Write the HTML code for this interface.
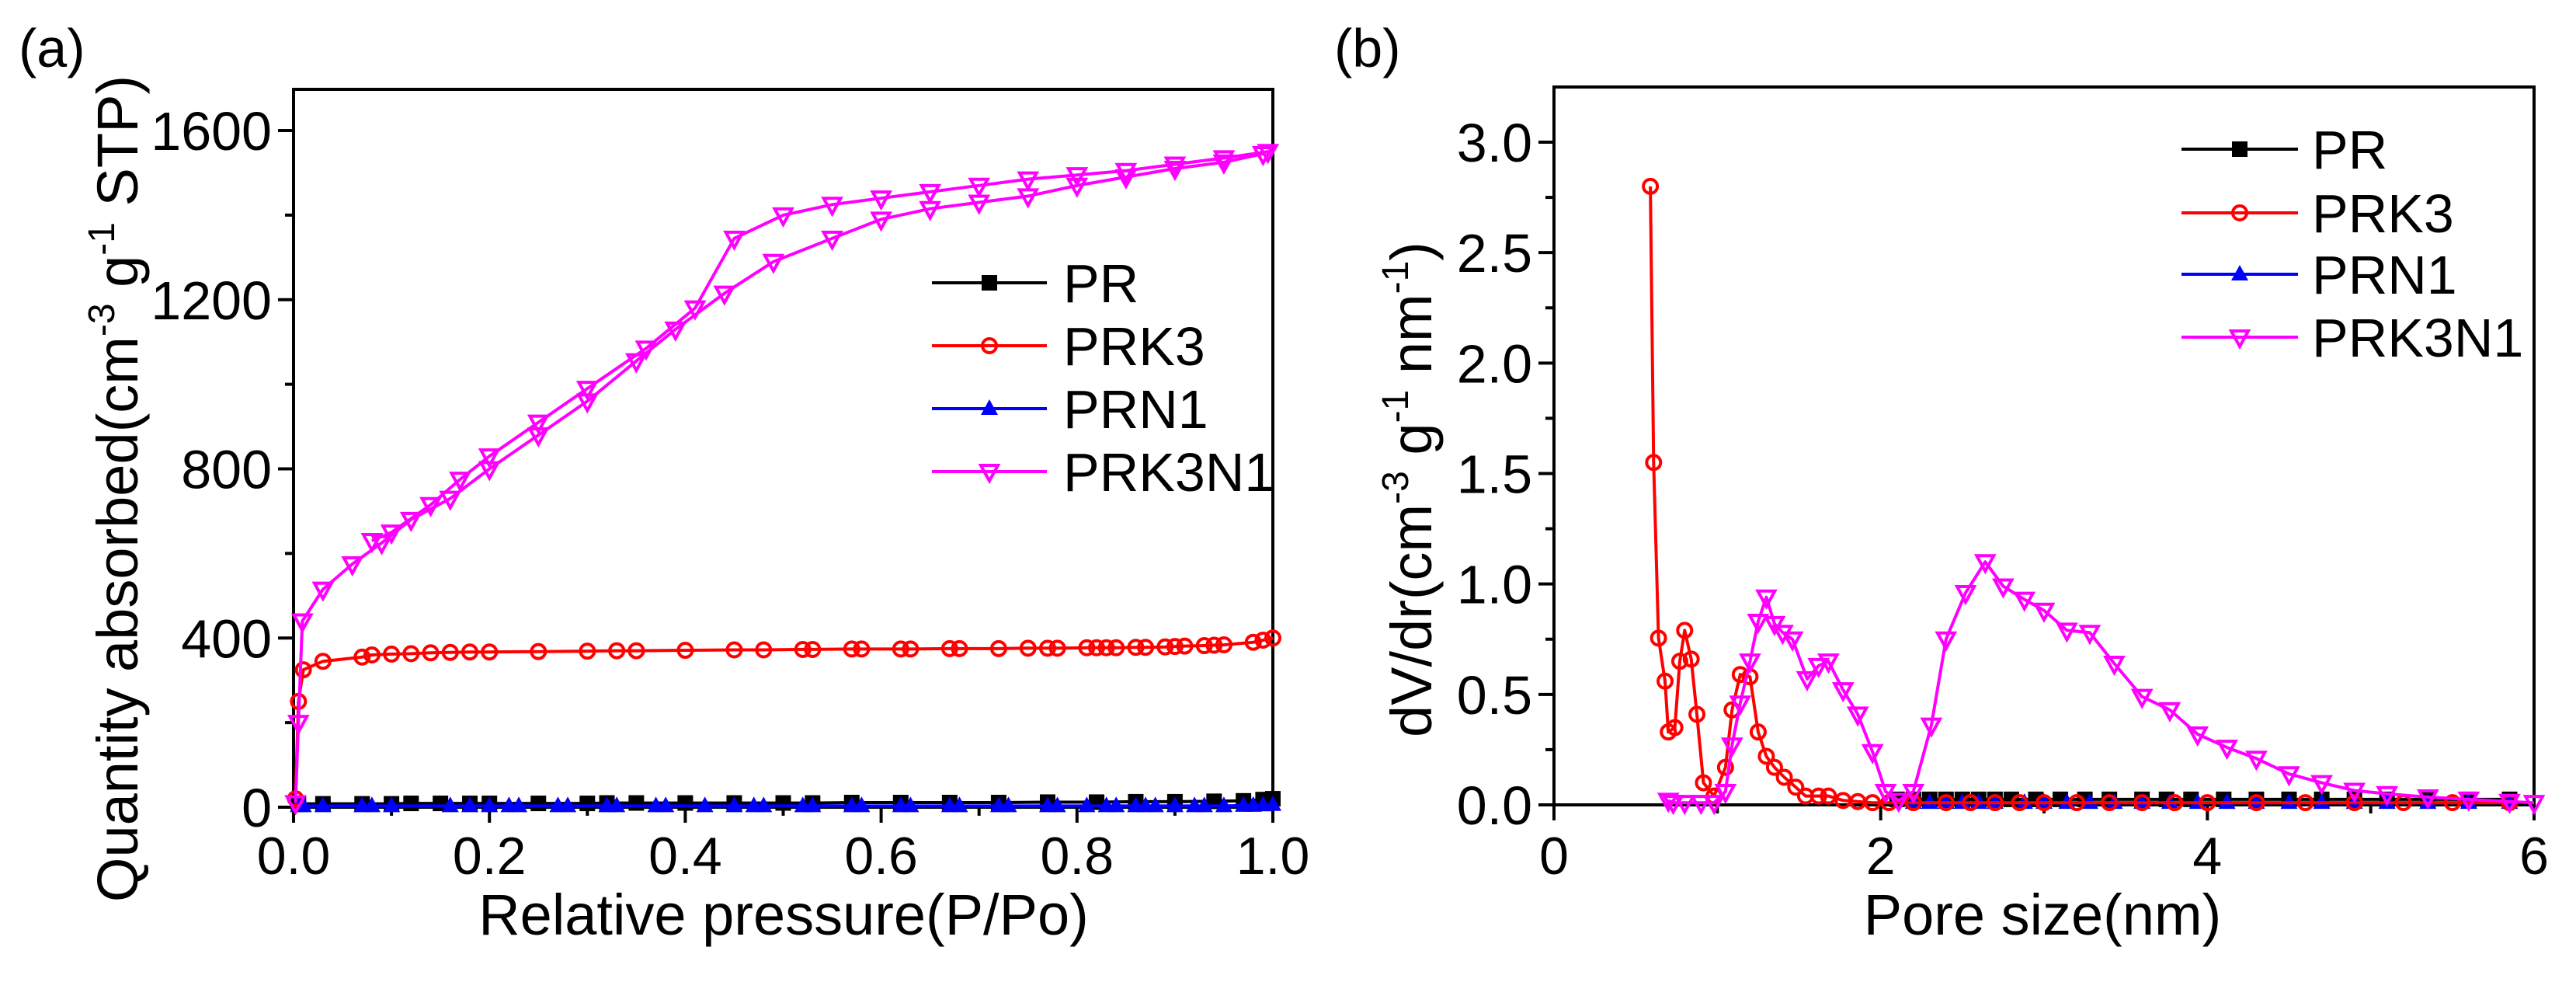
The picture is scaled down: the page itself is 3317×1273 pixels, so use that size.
<!DOCTYPE html>
<html><head><meta charset="utf-8"><style>
html,body{margin:0;padding:0;background:#fff}
svg{display:block;font-family:"Liberation Sans",Arial,sans-serif}
</style></head><body>
<svg id="fig" width="3317" height="1273" viewBox="0 0 3317 1273" xmlns="http://www.w3.org/2000/svg">
<g id="pa"></g>
<g id="pb"></g>
</svg>
<script>
// ---- Panel (a) data: isotherms ----
const aAdsP = [0.002,0.005,0.009,0.03,0.06,0.09,0.12,0.16,0.2,0.25,0.3,0.35,0.39,0.44,0.49,0.55,0.6,0.65,0.7,0.75,0.8,0.85,0.9,0.95,0.99];
const aAdsV = [10,200,440,515,575,625,680,730,800,880,960,1055,1130,1215,1290,1345,1390,1415,1430,1445,1470,1490,1510,1525,1545];
const aDesP = [0.995,0.95,0.9,0.85,0.8,0.75,0.7,0.65,0.6,0.55,0.5,0.45,0.41,0.36,0.3,0.25,0.2,0.17,0.14,0.1,0.08];
const aDesV = [1550,1535,1520,1505,1495,1485,1470,1455,1440,1425,1400,1345,1180,1085,990,910,830,775,715,650,630];
const prk3P = [0.002,0.005,0.01,0.03,0.07,0.08,0.1,0.12,0.14,0.16,0.18,0.2,0.25,0.3,0.33,0.35,0.4,0.45,0.48,0.52,0.53,0.57,0.58,0.62,0.63,0.67,0.68,0.72,0.75,0.77,0.78,0.81,0.82,0.83,0.84,0.86,0.87,0.89,0.9,0.91,0.93,0.94,0.95,0.98,0.99,1.0];
const prk3V = [20,250,325,345,355,360,362,363,365,366,367,367,368,369,370,370,371,372,372,373,373,374,374,374,374,375,375,375,376,376,376,377,377,377,377,378,378,379,380,381,382,383,384,390,395,400];
const prP = [0.005,0.03,0.07,0.1,0.12,0.15,0.18,0.2,0.25,0.3,0.32,0.35,0.4,0.45,0.5,0.53,0.57,0.62,0.67,0.72,0.77,0.82,0.86,0.9,0.94,0.97,0.99,1.0];
const prV = [8,8,8,8,9,9,9,9,9,9,10,10,10,10,10,10,11,11,11,11,12,12,13,13,14,15,18,20];
const prn1P = [0.005,0.01,0.03,0.07,0.08,0.1,0.16,0.18,0.2,0.22,0.23,0.27,0.28,0.32,0.33,0.37,0.38,0.42,0.45,0.47,0.48,0.52,0.53,0.57,0.58,0.62,0.63,0.67,0.68,0.72,0.73,0.77,0.78,0.81,0.83,0.84,0.86,0.87,0.88,0.9,0.92,0.93,0.95,0.97,0.98,0.99,1.0];
const prn1V = [3,3,3,3,3,3,3,3,3,3,3,3,3,3,3,3,3,3,3,3,3,3,3,3,3,3,3,3,3,3,3,3,3,3,3,3,3,3,3,3,3,3,3,4,4,5,6];
const aXTicks = ["0.0","0.2","0.4","0.6","0.8","1.0"];
const aYTicks = ["0","400","800","1200","1600"];
// ---- Panel (b) data: pore size distribution ----
const bPrk3D = [0.59,0.61,0.64,0.68,0.70,0.74,0.77,0.80,0.84,0.875,0.915,0.98,1.05,1.09,1.14,1.20,1.25,1.30,1.35,1.41,1.48,1.54,1.62,1.68,1.77,1.86,1.95,2.05,2.2,2.4,2.55,2.7,2.85,3.0,3.2,3.4,3.6,3.8,4.0,4.3,4.6,4.9,5.2,5.5,5.85];
const bPrk3V = [2.80,1.55,0.755,0.56,0.33,0.35,0.65,0.79,0.66,0.41,0.10,0.04,0.17,0.43,0.59,0.58,0.33,0.22,0.17,0.125,0.08,0.04,0.04,0.04,0.02,0.015,0.01,0.01,0.01,0.01,0.01,0.01,0.01,0.01,0.01,0.01,0.01,0.01,0.01,0.01,0.01,0.01,0.01,0.01,0.01];
const bMixD = [0.7,0.73,0.8,0.9,0.98,1.05,1.09,1.14,1.2,1.25,1.30,1.35,1.40,1.46,1.55,1.62,1.68,1.77,1.86,1.95,2.03,2.11,2.20,2.31,2.40,2.52,2.64,2.75,2.88,3.0,3.14,3.28,3.43,3.6,3.77,3.94,4.12,4.3,4.5,4.7,4.9,5.1,5.35,5.6,5.85,6.0];
const bMixV = [0.02,0.01,0.01,0.01,0.01,0.06,0.27,0.46,0.65,0.83,0.94,0.82,0.78,0.75,0.57,0.63,0.65,0.52,0.41,0.24,0.06,0.02,0.06,0.36,0.75,0.96,1.10,0.99,0.93,0.88,0.79,0.78,0.64,0.49,0.43,0.32,0.26,0.21,0.14,0.10,0.065,0.05,0.035,0.025,0.015,0.01];
const bPrD = [2.1,2.2,2.3,2.4,2.5,2.6,2.7,2.8,2.95,3.1,3.25,3.4,3.6,3.75,3.9,4.1,4.3,4.5,4.7,4.9,5.1,5.35,5.6,5.85];
const bPrV = [0.025,0.025,0.025,0.025,0.025,0.025,0.025,0.025,0.025,0.025,0.025,0.025,0.025,0.025,0.025,0.025,0.025,0.025,0.025,0.025,0.025,0.025,0.025,0.025];
const bPrn1D = [2.2,2.3,2.4,2.5,2.6,2.7,2.88,3.0,3.14,3.28,3.43,3.6,3.77,3.94,4.12,4.3,4.5,4.7,4.9,5.1,5.35,5.6,5.85];
const bPrn1V = [0.01,0.01,0.01,0.01,0.01,0.01,0.01,0.01,0.01,0.01,0.01,0.01,0.01,0.01,0.01,0.01,0.01,0.01,0.01,0.01,0.01,0.01,0.01];
const bXTicks = ["0","2","4","6"];
const bYTicks = ["0.0","0.5","1.0","1.5","2.0","2.5","3.0"];

const NS="http://www.w3.org/2000/svg";
function mk(parent,tag,attrs){const e=document.createElementNS(NS,tag);for(const k in attrs)e.setAttribute(k,attrs[k]);parent.appendChild(e);return e;}

function marker(g,type,x,y,color){
  let e;
  if(type==='sq'){e=mk(g,'rect',{x:x-10,y:y-10,width:20,height:20,fill:color});}
  else if(type==='ci'){e=mk(g,'circle',{cx:x,cy:y,r:9,fill:'none',stroke:color,'stroke-width':4});}
  else if(type==='tu'){e=mk(g,'polygon',{points:`${x},${y-12} ${x-11},${y+8} ${x+11},${y+8}`,fill:color});}
  else {e=mk(g,'polygon',{points:`${x-11},${y-8} ${x+11},${y-8} ${x},${y+12}`,fill:'none',stroke:color,'stroke-width':4});}
  
  
}
function series(g,xs,ys,sx,sy,color,type,name){
  const s=mk(g,'g',{});
  
  
  const pts=xs.map((v,i)=>sx(v).toFixed(1)+','+sy(ys[i]).toFixed(1)).join(' ');
  const l=mk(s,'polyline',{points:pts,fill:'none',stroke:color,'stroke-width':4,'stroke-linejoin':'round'});
  
  
  xs.forEach((v,i)=>marker(s,type,sx(v),sy(ys[i]),color));
}
function text(g,x,y,str,anchor,size,name){
  const t=mk(g,'text',{x:x,y:y,'text-anchor':anchor,'font-size':size,fill:'#000'});
  t.textContent=str;
  
  
  return t;
}
function frame(g,L,R,T,B){
  const f=mk(g,'rect',{x:L,y:T,width:R-L,height:B-T,fill:'none',stroke:'#000','stroke-width':4});
  
  
}
function legend(g,x0,x1,tx,ys,items){
  const lg=mk(g,'g',{});
  
  
  items.forEach((it,i)=>{
    const e=mk(lg,'g',{});
    
    
    mk(e,'line',{x1:x0,y1:ys[i],x2:x1,y2:ys[i],stroke:it[1],'stroke-width':4});
    marker(e,it[2],(x0+x1)/2,ys[i],it[1]);
    text(e,tx,ys[i]+25,it[0],'start',70,'legend-label');
  });
}

// Panel A
(function(){
  const g=document.getElementById('pa');
  const L=378,R=1639,T=115,B=1039;
  const sx=v=>L+v*(R-L);
  const sy=v=>B-v*(B-168)/1600;
  frame(g,L,R,T,B);
  aXTicks.forEach(t=>{const v=parseFloat(t);mk(g,'line',{x1:sx(v),y1:B,x2:sx(v),y2:B+20,stroke:'#000','stroke-width':4});text(g,sx(v),1125,t,'middle',68,'x-tick-label');});
  for(let v=0.1;v<1;v+=0.2)mk(g,'line',{x1:sx(v),y1:B,x2:sx(v),y2:B+11,stroke:'#000','stroke-width':4});
  aYTicks.forEach(t=>{const v=+t;mk(g,'line',{x1:L-20,y1:sy(v),x2:L,y2:sy(v),stroke:'#000','stroke-width':4});text(g,L-28,sy(v)+25,t,'end',70,'y-tick-label');});
  for(let v=200;v<1700;v+=400)mk(g,'line',{x1:L-11,y1:sy(v),x2:L,y2:sy(v),stroke:'#000','stroke-width':4});
  series(g,prP,prV,sx,sy,'#000','sq','series-pr');
  series(g,prn1P,prn1V,sx,sy,'#0000ff','tu','series-prn1');
  series(g,prk3P,prk3V,sx,sy,'#ff0000','ci','series-prk3');
  series(g,aAdsP,aAdsV,sx,sy,'#ff00ff','td','series-prk3n1-adsorption');
  series(g,aDesP,aDesV,sx,sy,'#ff00ff','td','series-prk3n1-desorption');
  legend(g,1200,1348,1369,[364,445,526,607],[['PR','#000','sq'],['PRK3','#ff0000','ci'],['PRN1','#0000ff','tu'],['PRK3N1','#ff00ff','td']]);
  text(g,1009,1203,'Relative pressure(P/Po)','middle',74,'x-axis-title');
  const yt=mk(g,'text',{transform:'translate(177,629) rotate(-90)','text-anchor':'middle','font-size':74});
  
  
  yt.innerHTML='Quantity absorbed(cm<tspan font-size="48" dy="-30">-3</tspan><tspan dy="30"> g</tspan><tspan font-size="48" dy="-30">-1</tspan><tspan dy="30"> STP)</tspan>';
  text(g,24,86,'(a)','start',70,'panel-label-a');
})();

// Panel B
(function(){
  const g=document.getElementById('pb');
  const L=2001,R=3263,T=112,B=1036;
  const sx=v=>L+v*(R-L)/6;
  const sy=v=>B-v*(B-183)/3;
  frame(g,L,R,T,B);
  bXTicks.forEach(t=>{const v=+t;mk(g,'line',{x1:sx(v),y1:B,x2:sx(v),y2:B+20,stroke:'#000','stroke-width':4});text(g,sx(v),1125,t,'middle',68,'x-tick-label');});
  for(let v=1;v<6;v+=2)mk(g,'line',{x1:sx(v),y1:B,x2:sx(v),y2:B+11,stroke:'#000','stroke-width':4});
  bYTicks.forEach(t=>{const v=+t;mk(g,'line',{x1:L-20,y1:sy(v),x2:L,y2:sy(v),stroke:'#000','stroke-width':4});text(g,L-28,sy(v)+25,t,'end',70,'y-tick-label');});
  for(let v=0.25;v<3.25;v+=0.5)mk(g,'line',{x1:L-11,y1:sy(v),x2:L,y2:sy(v),stroke:'#000','stroke-width':4});
  series(g,bPrD,bPrV,sx,sy,'#000','sq','series-pr');
  series(g,bPrn1D,bPrn1V,sx,sy,'#0000ff','tu','series-prn1');
  series(g,bPrk3D,bPrk3V,sx,sy,'#ff0000','ci','series-prk3');
  series(g,bMixD,bMixV,sx,sy,'#ff00ff','td','series-prk3n1');
  legend(g,2809,2959,2977,[192,274,353,434],[['PR','#000','sq'],['PRK3','#ff0000','ci'],['PRN1','#0000ff','tu'],['PRK3N1','#ff00ff','td']]);
  text(g,2630,1203,'Pore size(nm)','middle',74,'x-axis-title');
  const yt=mk(g,'text',{transform:'translate(1843,630) rotate(-90)','text-anchor':'middle','font-size':74});
  
  
  yt.innerHTML='dV/dr(cm<tspan font-size="48" dy="-30">-3</tspan><tspan dy="30"> g</tspan><tspan font-size="48" dy="-30">-1</tspan><tspan dy="30"> nm</tspan><tspan font-size="48" dy="-30">-1</tspan><tspan dy="30">)</tspan>';
  text(g,1718,86,'(b)','start',70,'panel-label-b');
})();
</script>
</body></html>
